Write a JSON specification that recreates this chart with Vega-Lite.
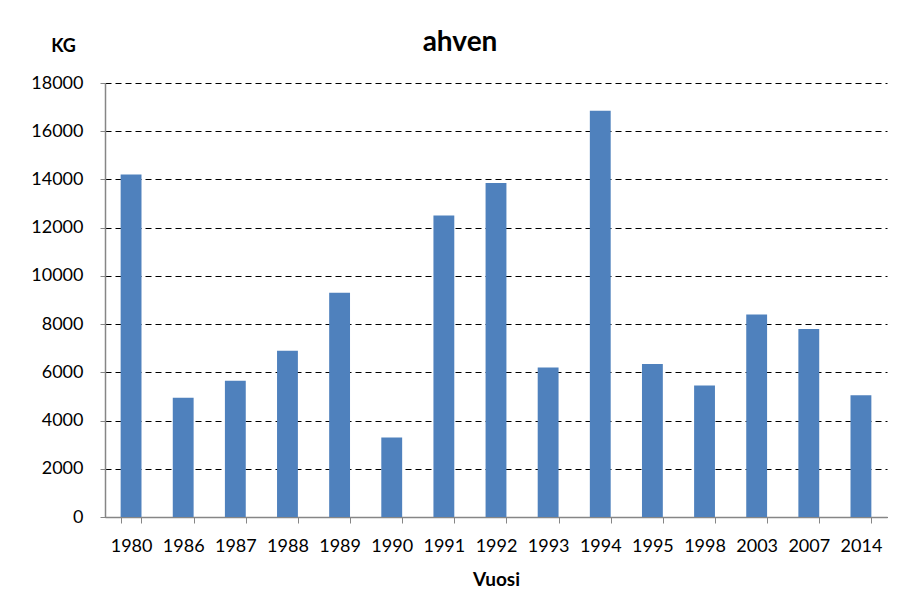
{
  "$schema": "https://vega.github.io/schema/vega-lite/v6.json",
  "width": 782,
  "height": 434,
  "autosize": {"type": "none"},
  "padding": {"left": 105, "top": 83, "right": 14, "bottom": 86},
  "background": "white",
  "title": {
    "text": "ahven",
    "font": "Lato",
    "fontSize": 28,
    "fontWeight": "bold",
    "color": "#000000",
    "anchor": "middle",
    "frame": "group",
    "dx": -36,
    "offset": -20
  },
  "data": {
    "values": [
      {"Vuosi": "1980", "KG": 14200},
      {"Vuosi": "1986", "KG": 4950},
      {"Vuosi": "1987", "KG": 5650},
      {"Vuosi": "1988", "KG": 6900},
      {"Vuosi": "1989", "KG": 9300},
      {"Vuosi": "1990", "KG": 3300},
      {"Vuosi": "1991", "KG": 12500},
      {"Vuosi": "1992", "KG": 13850},
      {"Vuosi": "1993", "KG": 6200},
      {"Vuosi": "1994", "KG": 16850},
      {"Vuosi": "1995", "KG": 6350},
      {"Vuosi": "1998", "KG": 5450},
      {"Vuosi": "2003", "KG": 8400},
      {"Vuosi": "2007", "KG": 7800},
      {"Vuosi": "2014", "KG": 5050}
    ]
  },
  "mark": {"type": "bar", "color": "#4F81BD"},
  "encoding": {
    "x": {
      "field": "Vuosi",
      "type": "ordinal",
      "sort": null,
      "scale": {"paddingInner": 0.6, "paddingOuter": 0.3},
      "axis": {
        "title": "Vuosi",
        "titleFont": "Lato",
        "titleFontSize": 19,
        "titleFontWeight": "bold",
        "titleColor": "#000000",
        "titlePadding": 15,
        "labelAngle": 0,
        "labelFont": "Lato",
        "labelFontSize": 18,
        "labelColor": "#000000",
        "labelPadding": 14,
        "tickBand": "extent",
        "tickSize": 6,
        "tickColor": "#868686",
        "domainColor": "#868686",
        "domainWidth": 1.5,
        "grid": false
      }
    },
    "y": {
      "field": "KG",
      "type": "quantitative",
      "scale": {"domain": [0, 18000], "nice": false},
      "axis": {
        "values": [0, 2000, 4000, 6000, 8000, 10000, 12000, 14000, 16000, 18000],
        "format": "d",
        "title": "KG",
        "titleFont": "Lato",
        "titleFontSize": 18,
        "titleFontWeight": "bold",
        "titleColor": "#000000",
        "titleAngle": 0,
        "titleAlign": "center",
        "titleBaseline": "middle",
        "titleX": -42,
        "titleY": -37,
        "labelFont": "Lato",
        "labelFontSize": 18,
        "labelColor": "#000000",
        "labelPadding": 17,
        "tickSize": 5,
        "tickColor": "#868686",
        "domainColor": "#868686",
        "domainWidth": 1.5,
        "grid": true,
        "gridColor": "#000000",
        "gridDash": [6, 4],
        "gridWidth": 1.2
      }
    }
  },
  "config": {
    "view": {"stroke": null}
  }
}
